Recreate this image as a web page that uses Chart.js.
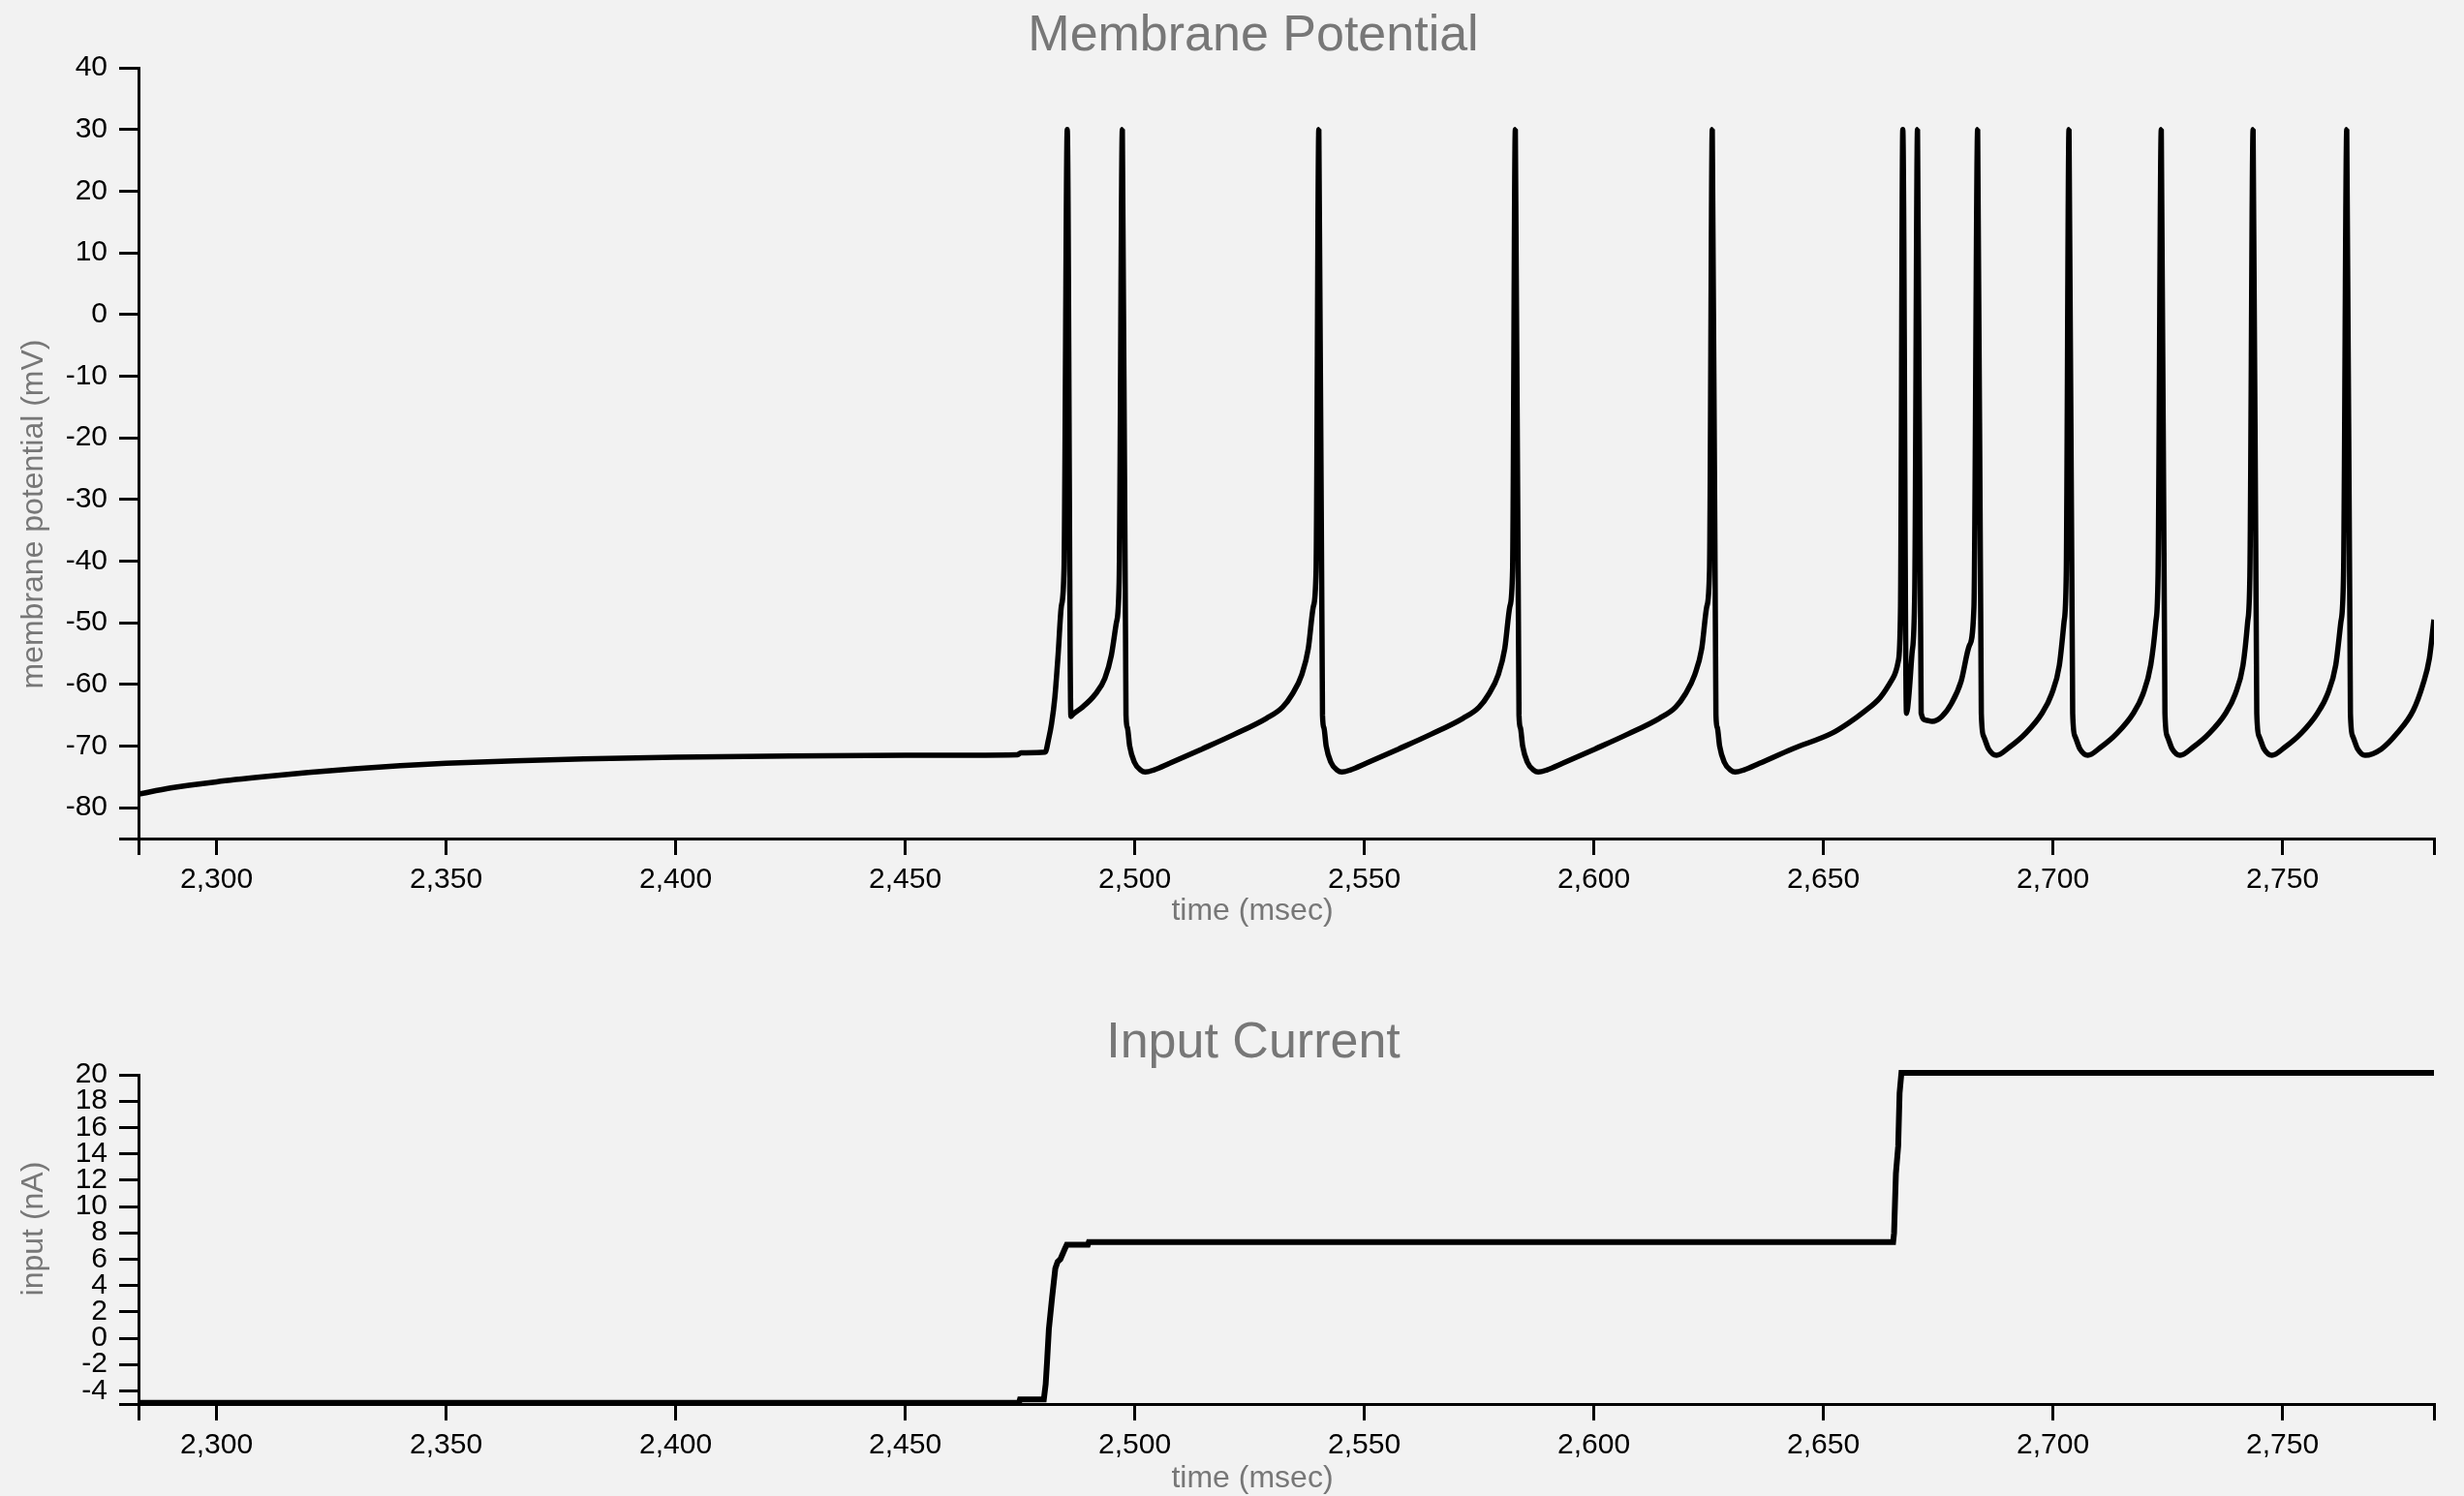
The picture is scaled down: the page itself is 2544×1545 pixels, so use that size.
<!DOCTYPE html>
<html>
<head>
<meta charset="utf-8">
<title>Membrane Potential</title>
<script src="https://cdn.jsdelivr.net/npm/chart.js@4"></script>
<style>
  body { margin:0; background:#f2f2f2; }
  #wrap { position:relative; width:2544px; height:1545px; overflow:hidden; font-family:"Liberation Sans", Arial, sans-serif; }
  canvas { position:absolute; left:0; }
  .titulo { position:absolute; left:794px; width:1000px; text-align:center; color:#777; font-size:52px; line-height:52px; }
  .xlab { position:absolute; left:793px; width:1000px; text-align:center; color:#777; font-size:32px; line-height:32px; }
  .ylab { position:absolute; width:600px; height:32px; text-align:center; color:#777; font-size:32px; line-height:32px; white-space:nowrap; transform:rotate(-90deg); }
</style>
</head>
<body>
<div id="wrap">
  <canvas id="potencial" width="2544" height="1000" style="top:0"></canvas>
  <canvas id="corriente" width="2544" height="545" style="top:1000px"></canvas>
  <div class="titulo" style="top:8px">Membrane Potential</div>
  <div class="xlab" style="top:923px">time (msec)</div>
  <div class="ylab" style="left:-267px; top:515px">membrane potential (mV)</div>
  <div class="titulo" style="top:1048px">Input Current</div>
  <div class="xlab" style="top:1509px">time (msec)</div>
  <div class="ylab" style="left:-267px; top:1253px">input (nA)</div>
</div>
<script>
// ejes
const timeRange = [2283, 2783];
const timeTicks = [2300, 2350, 2400, 2450, 2500, 2550, 2600, 2650, 2700, 2750];
const potentialRange = [-85, 40];
const potentialTicks = [-80, -70, -60, -50, -40, -30, -20, -10, 0, 10, 20, 30, 40];
const currentRange = [-5, 20];
const currentTicks = [-4, -2, 0, 2, 4, 6, 8, 10, 12, 14, 16, 18, 20];

// membrane potential (mV)
const potentialTime = [
  2283, 2290, 2300, 2310, 2320, 2330, 2340, 2350, 2365, 2380, 2400, 2425, 2450, 2474.5, 2475.2,
  2480.5, 2481.2, 2481.9, 2482.6, 2483.3, 2484.0, 2484.6, 2485.3, 2486.1,
  2486.6, 2488.6, 2491.4, 2493.5, 2494.9, 2496.0, 2496.6, 2497.3, 2498.1,
  2498.4, 2498.9, 2499.9, 2501.3, 2502.3, 2504.1, 2507.6, 2514.6, 2521.7, 2528.7, 2532.2, 2534.3, 2536.4, 2537.8, 2538.9, 2539.5, 2540.1, 2540.9,
  2541.2, 2541.7, 2542.7, 2544.1, 2545.1, 2546.9, 2550.4, 2557.4, 2564.5, 2571.5, 2575.0, 2577.1, 2579.2, 2580.6, 2581.7, 2582.3, 2582.9, 2583.7,
  2584.0, 2584.5, 2585.5, 2586.9, 2587.9, 2589.7, 2593.2, 2600.2, 2607.3, 2614.3, 2617.8, 2619.9, 2622.0, 2623.5, 2624.6, 2625.2, 2625.8, 2626.6,
  2626.9, 2627.4, 2628.4, 2629.8, 2630.8, 2632.6, 2636.1, 2643.1, 2651.9, 2655.4, 2658.9, 2662.4, 2665.2, 2666.3, 2666.8, 2667.3, 2668.1,
  2668.6, 2669.3, 2669.9, 2670.5, 2671.3,
  2672.3, 2673.7, 2675.8, 2677.9, 2680.0, 2681.8, 2682.8, 2683.6, 2684.4,
  2684.9, 2686.0, 2687.7, 2690.5, 2694.1, 2697.6, 2699.7, 2701.4, 2702.4, 2702.9, 2703.5, 2704.3,
  2704.8, 2705.9, 2707.6, 2710.4, 2714.0, 2717.5, 2719.6, 2721.3, 2722.4, 2722.9, 2723.6, 2724.4,
  2724.9, 2726.0, 2727.7, 2730.5, 2734.1, 2737.6, 2739.7, 2741.4, 2742.4, 2742.9, 2743.6, 2744.4,
  2744.9, 2746.0, 2747.7, 2750.5, 2754.1, 2757.6, 2759.8, 2761.6, 2762.7, 2763.3, 2764.0, 2764.8,
  2765.3, 2766.4, 2768.0, 2771.5, 2775.0, 2778.5, 2780.6, 2782.0, 2783.0
];
const potentialValue = [
  -77.8, -76.8, -75.8, -75.0, -74.3, -73.7, -73.2, -72.8, -72.4, -72.1, -71.8, -71.6, -71.5, -71.4, -71.1,
  -71.0, -69.0, -66.3, -62.1, -55.3, -47.4, -41.2, 30, -65.2,
  -64.8, -63.7, -61.6, -59.0, -55.3, -50.0, -43.5, 30, -65.0,
  -67.0, -70.0, -72.6, -73.9, -74.2, -73.9, -72.8, -70.5, -68.1, -65.5, -63.7, -61.6, -58.4, -54.2, -47.4, -41.5, 30, -65.0,
  -67.0, -70.0, -72.6, -73.9, -74.2, -73.9, -72.8, -70.5, -68.1, -65.5, -63.7, -61.6, -58.4, -54.2, -47.4, -41.5, 30, -65.0,
  -67.0, -70.0, -72.6, -73.9, -74.2, -73.9, -72.8, -70.5, -68.1, -65.5, -63.7, -61.6, -58.4, -54.2, -47.4, -41.5, 30, -65.0,
  -67.0, -70.0, -72.6, -73.9, -74.2, -73.9, -72.8, -70.5, -67.9, -66.3, -64.4, -62.1, -58.9, -56.3, -48.0, 30, -64.7,
  -62.0, -55.0, -45.0, 30, -64.7,
  -65.8, -66.0, -65.2, -63.1, -59.5, -53.7, -47.4, 30, -64.7,
  -68.4, -70.5, -71.5, -70.2, -67.9, -64.7, -61.6, -56.9, -50.0, -42.2, 30, -64.7,
  -68.4, -70.5, -71.5, -70.2, -67.9, -64.7, -61.6, -56.9, -50.0, -42.2, 30, -64.7,
  -68.4, -70.5, -71.5, -70.2, -67.9, -64.7, -61.6, -56.9, -50.0, -42.2, 30, -64.7,
  -68.4, -70.5, -71.5, -70.2, -67.9, -64.7, -61.6, -56.9, -50.0, -42.2, 30, -64.7,
  -68.4, -70.5, -71.5, -70.5, -67.9, -64.2, -60.0, -55.8, -49.5
];

// input current (nA)
const currentTime = [2283, 2474.8, 2475.0, 2480.2, 2480.6, 2480.9, 2481.3, 2482.0, 2482.7, 2483.2, 2483.8, 2484.8, 2485.2, 2489.8, 2490.0,
  2665.2, 2665.4, 2665.8, 2666.3, 2666.6, 2667.0, 2783];
const currentValue = [-4.9, -4.9, -4.65, -4.65, -3.5, -1.8, 0.7, 3.1, 5.3, 5.8, 6.0, 6.8, 7.1, 7.1, 7.3,
  7.3, 8.0, 12.5, 14.6, 18.6, 20.15, 20.15];

const aPuntos = (xs, ys) => xs.map((x, i) => ({ x, y: ys[i] }));

// pone las marcas fijas mas los extremos del dominio (sin etiqueta)
const fijar = marcas => scale => {
  const vals = [...new Set([scale.min, ...marcas, scale.max])].sort((a, b) => a - b);
  scale.ticks = vals.map(v => ({ value: v }));
};

function opciones(yRange, yTicks, padTop, altoX) {
  const fuente = { family: 'Liberation Sans', size: 30 };
  return {
    responsive: false,
    animation: false,
    layout: { padding: { top: padTop, right: 31, left: 0, bottom: 0 } },
    plugins: { legend: { display: false }, tooltip: { enabled: false } },
    scales: {
      x: {
        type: 'linear', min: timeRange[0], max: timeRange[1],
        afterBuildTicks: fijar(timeTicks),
        afterFit: s => { s.height = altoX; },
        ticks: { autoSkip: false, maxRotation: 0, padding: 8, color: '#000', font: fuente,
                 callback: v => timeTicks.includes(v) ? v.toLocaleString('en-US') : '' },
        grid: { drawOnChartArea: false, tickLength: 17, lineWidth: 3, tickWidth: 3, tickColor: '#000', color: '#000' },
        border: { color: '#000', width: 3 }
      },
      y: {
        type: 'linear', min: yRange[0], max: yRange[1],
        afterBuildTicks: fijar(yTicks),
        afterFit: s => { s.width = 143; },
        ticks: { autoSkip: false, padding: 12, color: '#000', font: fuente,
                 callback: v => yTicks.includes(v) ? String(v) : '' },
        grid: { drawOnChartArea: false, tickLength: 20, lineWidth: 3, tickWidth: 3, tickColor: '#000', color: '#000' },
        border: { color: '#000', width: 3 }
      }
    }
  };
}

new Chart(document.getElementById('potencial'), {
  type: 'line',
  data: { datasets: [{
    data: aPuntos(potentialTime, potentialValue),
    borderColor: '#000', borderWidth: 5.5, pointRadius: 0, fill: false,
    cubicInterpolationMode: 'monotone', borderJoinStyle: 'bevel'
  }] },
  options: opciones(potentialRange, potentialTicks, 70, 134)
});

new Chart(document.getElementById('corriente'), {
  type: 'line',
  data: { datasets: [{
    data: aPuntos(currentTime, currentValue),
    borderColor: '#000', borderWidth: 6, pointRadius: 0, fill: false, tension: 0, clip: 10
  }] },
  options: opciones(currentRange, currentTicks, 110, 95)
});
</script>
</body>
</html>
